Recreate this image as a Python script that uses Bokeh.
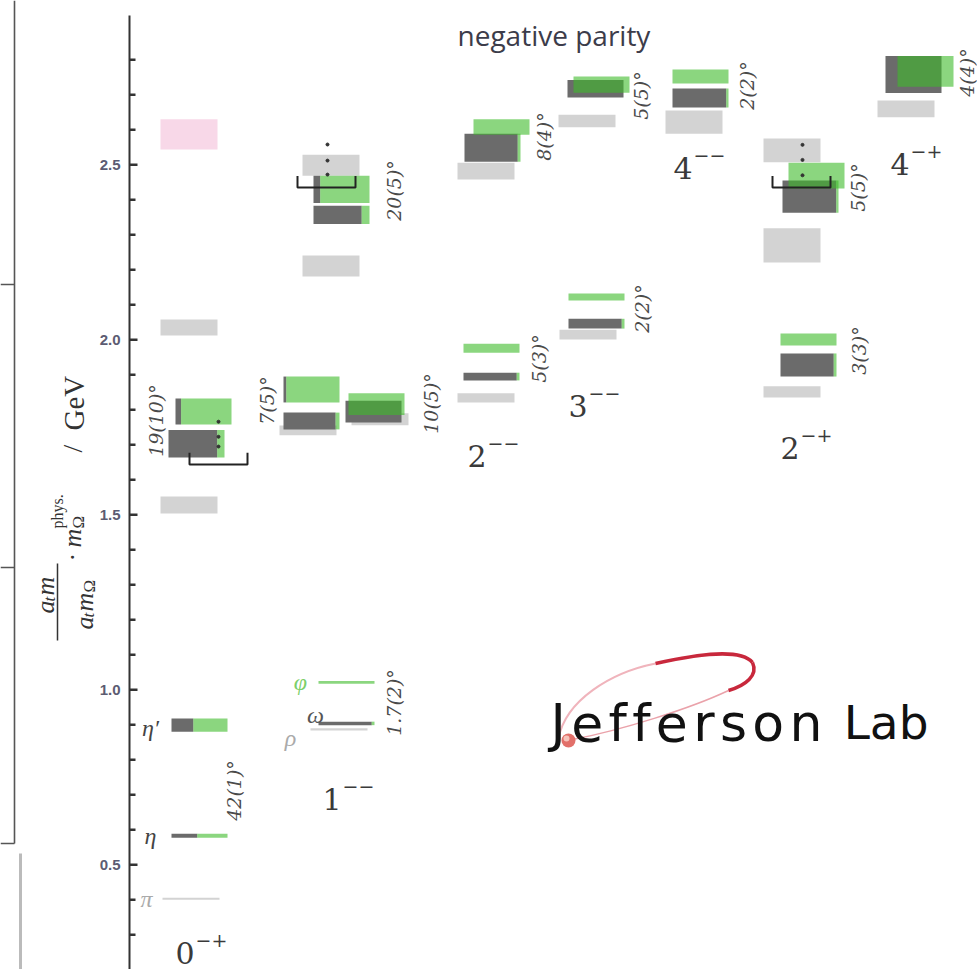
import numpy as np
from bokeh.plotting import figure
from bokeh.models import Range1d
from bokeh.core.properties import value
from bokeh.embed import file_html
from bokeh.resources import INLINE

# ===================== DATA (GeV) =====================
jpc_digits = ["0", "1", "2", "3", "4", "2", "4"]
jpc_signs = ["−+", "−−", "−−", "−−", "−−", "−+", "−+"]

# lattice isoscalar levels: mass, half-height, light-quark share of the bar (rest = strange, green)
lat_mass = [1.795, 1.703, 0.899, 0.583,
            2.430, 2.357, 1.858, 1.768, 1.795, 1.816, 1.021, 0.904,
            2.608, 2.549, 1.976, 1.895,
            2.717, 2.729, 2.122, 2.046,
            2.752, 2.691,
            2.469, 2.409, 2.001, 1.928,
            2.758, 2.767]
lat_err = [0.037, 0.039, 0.019, 0.006,
           0.039, 0.026, 0.037, 0.024, 0.031, 0.031, 0.004, 0.005,
           0.022, 0.040, 0.013, 0.011,
           0.025, 0.023, 0.010, 0.014,
           0.020, 0.027,
           0.037, 0.046, 0.017, 0.033,
           0.053, 0.044]
lat_light = [0.10, 0.87, 0.39, 0.46,
             0.12, 0.86, 0.05, 0.93, 1.00, 0.00, 0.00, 0.95,
             0.00, 0.95, 0.00, 0.95,
             1.00, 0.00, 0.00, 0.95,
             0.00, 0.96,
             0.00, 0.96, 0.00, 0.95,
             1.00, 0.00]

# comparison (isovector) levels, light grey
iso_mass = [2.035, 1.528, 0.403, 2.499, 2.211, 1.741, 1.773, 0.887, 2.482, 1.834,
            2.625, 2.015, 2.622, 2.541, 2.270, 1.851, 2.660]
iso_err = [0.023, 0.024, 0.003, 0.030, 0.030, 0.014, 0.017, 0.003, 0.024, 0.013,
           0.018, 0.014, 0.033, 0.034, 0.049, 0.016, 0.024]

# pink level in 0-+
pink_mass = [2.587]
pink_err = [0.043]

# threshold brackets and dotted markers
threshold_mass = [1.644, 2.435, 2.435]
dot_mass = [1.766, 1.723, 1.695, 2.558, 2.512, 2.472, 2.557, 2.514, 2.470]

mix_labels = ["19(10)°", "42(1)°", "7(5)°", "10(5)°", "20(5)°", "1.7(2)°", "8(4)°",
              "5(3)°", "5(5)°", "2(2)°", "2(2)°", "5(5)°", "3(3)°", "4(4)°"]

meson_names = ["η′", "η", "π", "φ", "ω", "ρ"]
meson_mass = [0.899, 0.583, 0.403, 1.021, 0.904, 0.887]

y_major = [0.5, 1.0, 1.5, 2.0, 2.5]
y_major_labels = ["0.5", "1.0", "1.5", "2.0", "2.5"]
y_minor = [0.3, 0.4, 0.6, 0.7, 0.8, 0.9, 1.1, 1.2, 1.3, 1.4, 1.6, 1.7, 1.8, 1.9,
           2.1, 2.2, 2.3, 2.4, 2.6, 2.7, 2.8]

# ===================== LAYOUT (screen placement, px) =====================
PX_AT_2 = 339.3      # pixel row of 2.0 GeV
PX_PER_GEV = 350.0


def Y(py):
    return 2.0 + (PX_AT_2 - py) / PX_PER_GEV


W_LAT = 56
W_ISO = 57
lat_x = [175, 168, 171, 171, 313, 313, 283, 283, 345, 348, 318, 318,
         473, 464, 463, 463, 567, 573, 568, 568, 672, 672, 788, 782, 780, 780, 885, 897]
iso_x = [160, 160, 162, 302, 302, 279, 351, 310, 457, 457, 558, 559, 665, 763, 763, 763, 877]
pink_x = [160]
bracket_x = [(189, 247), (297, 355), (772, 830)]
BRACKET_ARM = 0.033
dot_x = [218] * 3 + [327] * 3 + [802] * 3
mix_pos = [(155, 420), (233, 790), (266, 400), (430, 403), (393, 190), (393, 702), (543, 136),
           (538, 358), (640, 95), (641, 308), (746, 85), (857, 187), (858, 350), (966, 72)]
meson_x = [150, 150, 146, 300, 315, 290]
meson_dy = [-0.008, 0.0, 0.0, 0.0, 0.023, -0.026]
meson_col = ["#444444", "#444444", "#aaaaaa", "#7ccf6a", "#555555", "#aaaaaa"]
jpc_pos = [(175, 952), (322, 798), (467, 455), (568, 405), (673, 167), (780, 447), (890, 163)]
AXIS_X = 129

LGREY = "#d3d3d3"
DGREY = "#6b6b6b"
GREEN = "#3dbb2a"
PINK = "#f8d8e8"

p = figure(width=977, height=969, x_range=Range1d(0, 977), y_range=Range1d(Y(969), Y(0)),
           output_backend="svg", toolbar_location=None, min_border=0,
           x_axis_location=None, y_axis_location=None)
p.grid.visible = False
p.outline_line_color = None
p.background_fill_color = "white"
p.border_fill_color = "white"

# ---- slide frame remnants on the left
p.segment(x0=[14, 0, 0, 0], y0=[Y(0), Y(284), Y(567), Y(843)],
          x1=[14, 14, 14, 14], y1=[Y(843), Y(284), Y(567), Y(843)],
          line_color="#555555", line_width=1.6)
p.segment(x0=[20], y0=[Y(853)], x1=[20], y1=[Y(969)], line_color="#bbbbbb", line_width=3)

# ---- vertical axis
p.segment(x0=[AXIS_X], y0=[Y(15)], x1=[AXIS_X], y1=[Y(969)], line_color="#333333", line_width=2)
p.segment(x0=[AXIS_X] * len(y_major), y0=y_major, x1=[AXIS_X + 8] * len(y_major), y1=y_major,
          line_color="#333333", line_width=2.5)
p.segment(x0=[AXIS_X] * len(y_minor), y0=y_minor, x1=[AXIS_X + 6] * len(y_minor), y1=y_minor,
          line_color="#333333", line_width=2.5)
p.text(x=[AXIS_X - 9] * len(y_major), y=y_major, text=y_major_labels,
       text_font=value("Liberation Sans"), text_font_style="bold", text_font_size="15px",
       text_color="#5c5c72", text_align="right", text_baseline="middle")

# ---- axis title (rotated)
serif = value("Liberation Serif")
ylab = [("a", 45, 613, "26px", "italic"), ("t", 49, 601, "17px", "italic"), ("m", 45, 595, "26px", "italic"),
        ("a", 84, 629, "26px", "italic"), ("t", 88, 617, "17px", "italic"), ("m", 84, 611, "26px", "italic"),
        ("Ω", 89, 592, "17px", "normal"),
        ("·", 72, 561, "26px", "normal"),
        ("m", 72, 547, "26px", "italic"), ("Ω", 78, 528, "17px", "normal"),
        ("phys.", 57, 528, "16px", "normal"),
        ("/", 72, 452, "28px", "normal"), ("GeV", 73, 430, "29px", "normal")]
for t, bx, by, fs, st in ylab:
    p.text(x=[bx], y=[Y(by)], text=[t], angle=np.pi / 2, text_font=serif, text_font_size=fs,
           text_font_style=st, text_color="#333333", text_align="left", text_baseline="alphabetic")
p.segment(x0=[57], y0=[Y(563)], x1=[57], y1=[Y(640)], line_color="#333333", line_width=1.5)

# ---- levels
lm = np.array(lat_mass)
le = np.array(lat_err)
lf = np.array(lat_light)
lx = np.array(lat_x, dtype=float)
im = np.array(iso_mass)
ie = np.array(iso_err)
ix = np.array(iso_x, dtype=float)

p.quad(left=pink_x, right=[x + W_ISO for x in pink_x],
       top=[m + e for m, e in zip(pink_mass, pink_err)], bottom=[m - e for m, e in zip(pink_mass, pink_err)],
       fill_color=PINK, line_color=None)
p.quad(left=ix, right=ix + W_ISO, top=im + ie, bottom=im - ie, fill_color=LGREY, line_color=None)
p.quad(left=lx, right=lx + lf * W_LAT, top=lm + le, bottom=lm - le, fill_color=DGREY, line_color=None)
p.quad(left=lx + lf * W_LAT, right=lx + W_LAT, top=lm + le, bottom=lm - le,
       fill_color=GREEN, fill_alpha=0.6, line_color=None)

# ---- threshold brackets
bxs, bys = [], []
for (a, b), m in zip(bracket_x, threshold_mass):
    bxs.append([a, a, b, b])
    bys.append([m + BRACKET_ARM, m, m, m + BRACKET_ARM])
p.multi_line(xs=bxs, ys=bys, line_color="#222222", line_width=2)
p.scatter(x=dot_x, y=dot_mass, size=3, color="#333333")

# ---- labels
p.text(x=[a for a, b in mix_pos], y=[Y(b) for a, b in mix_pos], text=mix_labels, angle=np.pi / 2,
       text_font=value("DejaVu Serif"), text_font_style="italic", text_font_size="19px",
       text_color="#4a4a4a", text_align="center", text_baseline="middle")
p.text(x=meson_x, y=[m + d for m, d in zip(meson_mass, meson_dy)], text=meson_names,
       text_font=serif, text_font_style="italic", text_font_size="24px",
       text_color=meson_col, text_align="center", text_baseline="middle")
p.text(x=[a for a, b in jpc_pos], y=[Y(b) for a, b in jpc_pos], text=jpc_digits,
       text_font=value("DejaVu Serif"), text_font_size="30px",
       text_color="#3a3a3a", text_align="left", text_baseline="alphabetic")
p.text(x=[a + 20 for a, b in jpc_pos], y=[Y(b - 13) for a, b in jpc_pos], text=jpc_signs,
       text_font=value("DejaVu Serif"), text_font_size="19px",
       text_color="#3a3a3a", text_align="left", text_baseline="alphabetic")

# ---- title
p.text(x=[457], y=[Y(34)], text=["negative parity"], text_font=value("Open Sans"),
       text_font_size="28px", text_color="#3c3c4a", text_align="left", text_baseline="alphabetic")

# ---- Jefferson Lab logo
p.bezier(x0=[558], y0=[Y(738)], x1=[655], y1=[Y(663)], cx0=[565], cy0=[Y(700)], cx1=[610], cy1=[Y(672)],
         line_color="#f0b4bc", line_width=2)
p.bezier(x0=[572], y0=[Y(739)], x1=[728], y1=[Y(690)], cx0=[620], cy0=[Y(730)], cx1=[690], cy1=[Y(708)],
         line_color="#eaa2aa", line_width=1.5)
p.bezier(x0=[655], y0=[Y(663)], x1=[752], y1=[Y(662)], cx0=[700], cy0=[Y(653)], cx1=[740], cy1=[Y(648)],
         line_color="#c8283c", line_width=3.5)
p.bezier(x0=[752], y0=[Y(662)], x1=[728], y1=[Y(690)], cx0=[758], cy0=[Y(675)], cx1=[745], cy1=[Y(685)],
         line_color="#c8283c", line_width=3.5)
p.circle(x=[568], y=[Y(740)], radius=7, fill_color="#e2706a", line_color=None)
p.circle(x=[566], y=[Y(738)], radius=3, fill_color="#f6c4bc", line_color=None)

LOGO_FS = 52
glyph_w = {"J": 0.295, "e": 0.615, "f": 0.352, "r": 0.411, "s": 0.521, "o": 0.612, "n": 0.634}
word = "Jefferson"
gap = (272 - sum(glyph_w[c] for c in word) * LOGO_FS) / (len(word) - 1)
cx, xs_, chars = 550.0, [], []
for c in word:
    xs_.append(cx)
    chars.append(c)
    cx += glyph_w[c] * LOGO_FS + gap
p.text(x=xs_, y=[Y(722)] * len(chars), text=chars, text_font=value("DejaVu Sans"),
       text_font_size=f"{LOGO_FS}px", text_color="#111111", text_align="left", text_baseline="alphabetic")
p.text(x=[928], y=[Y(722)], text=["Lab"], text_font=value("DejaVu Sans"), text_font_size="47px",
       text_color="#111111", text_align="right", text_baseline="alphabetic")

open("out.html", "w").write(file_html(p, INLINE))
